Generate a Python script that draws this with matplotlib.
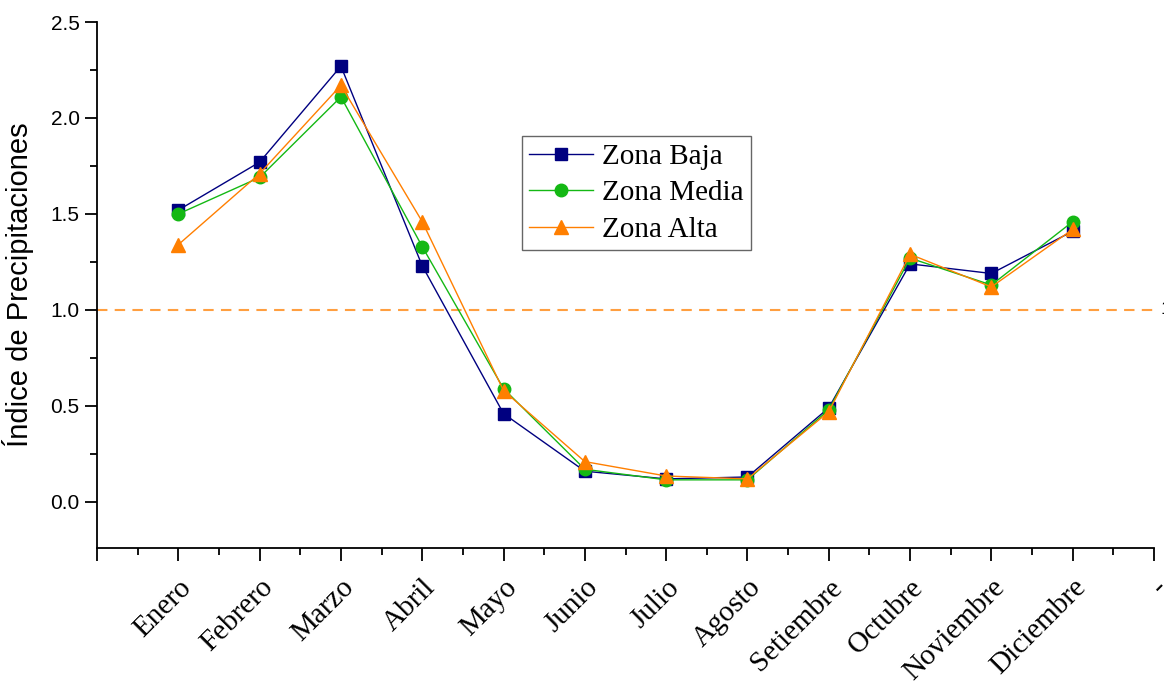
################################################################################
import numpy as np;
import matplotlib;
matplotlib.use("Agg");
import matplotlib.pyplot as plt;
from matplotlib.ticker import MultipleLocator, FixedLocator;
################################################################################
# data
meses = ["Enero","Febrero","Marzo","Abril","Mayo","Junio","Julio",
         "Agosto","Setiembre","Octubre","Noviembre","Diciembre","-"];
zona_baja  = [1.52, 1.77, 2.27, 1.23, 0.46, 0.16, 0.12, 0.13, 0.49, 1.24, 1.19, 1.41];
zona_media = [1.50, 1.69, 2.11, 1.33, 0.59, 0.17, 0.115, 0.115, 0.48, 1.27, 1.13, 1.46];
zona_alta  = [1.34, 1.71, 2.17, 1.46, 0.58, 0.21, 0.135, 0.12, 0.47, 1.29, 1.12, 1.42];
umbral = 1.0;
################################################################################
styles = {
    'baja': {
        'color'      : '#000080',
        'marker'     : 's',
        'markersize' : 8.5,
        'lw'         : 1.0,
        'label'      : 'Zona Baja',
    },
    'media': {
        'color'      : '#14b814',
        'marker'     : 'o',
        'markersize' : 9,
        'lw'         : 1.0,
        'label'      : 'Zona Media',
    },
    'alta': {
        'color'      : '#ff7f00',
        'marker'     : '^',
        'markersize' : 10,
        'lw'         : 1.0,
        'label'      : 'Zona Alta',
    },
    'umbral': {
        'color'      : '#ff9f40',
        'lw'         : 1.5,
        'ls'         : (0, (5, 3.5)),
    },
};
serif = "Liberation Serif";
sans = "Liberation Sans";
################################################################################
fig = plt.figure(figsize=(11.64, 6.86), dpi=100);
ax = fig.add_axes([97/1164, 1-548/686, (1154-97)/1164, (548-22)/686]);
x = np.arange(1, len(zona_baja)+1);

ax.axhline(umbral, **styles['umbral']);
ax.plot(x, zona_baja, **styles['baja']);
ax.plot(x, zona_media, **styles['media']);
ax.plot(x, zona_alta, **styles['alta']);
# label of the reference line, cut by the right edge as in the original
ax.text(13.08, umbral, "1", fontsize=14, family=sans, va='center', ha='left', clip_on=False);

ax.set_xlim(0, 13);
ax.set_ylim(-0.24, 2.5);
for s in ['top','right']:
    ax.spines[s].set_visible(False);
for s in ['left','bottom']:
    ax.spines[s].set_linewidth(1.3);

ax.xaxis.set_major_locator(FixedLocator(np.arange(0, 14)));
ax.xaxis.set_minor_locator(FixedLocator(np.arange(0.5, 13, 1)));
ax.set_xticklabels([""] + meses, family=serif, fontsize=21,
                   rotation=45, ha='right', rotation_mode='anchor');
ax.yaxis.set_minor_locator(MultipleLocator(0.25));
ax.set_yticks([0, 0.5, 1.0, 1.5, 2.0, 2.5]);
ax.set_yticklabels(["0.0","0.5","1.0","1.5","2.0","2.5"], family=sans, fontsize=15);
ax.tick_params(which='major', length=9, width=1.3, direction='out');
ax.tick_params(which='minor', length=5, width=1.3, direction='out');
ax.tick_params(axis='x', which='major', pad=10);
ax.set_ylabel("Índice de Precipitaciones", family=sans, fontsize=21, labelpad=12);

leg = ax.legend(loc='upper left', bbox_to_anchor=(0.402, 0.783), borderaxespad=0,
                prop={'family': serif, 'size': 21}, fancybox=False,
                handlelength=2.2, handletextpad=0.3, labelspacing=0.35,
                borderpad=0.25);
leg.get_frame().set_edgecolor('#404040');
leg.get_frame().set_linewidth(1.0);

fig.savefig("out.png", dpi=100);
